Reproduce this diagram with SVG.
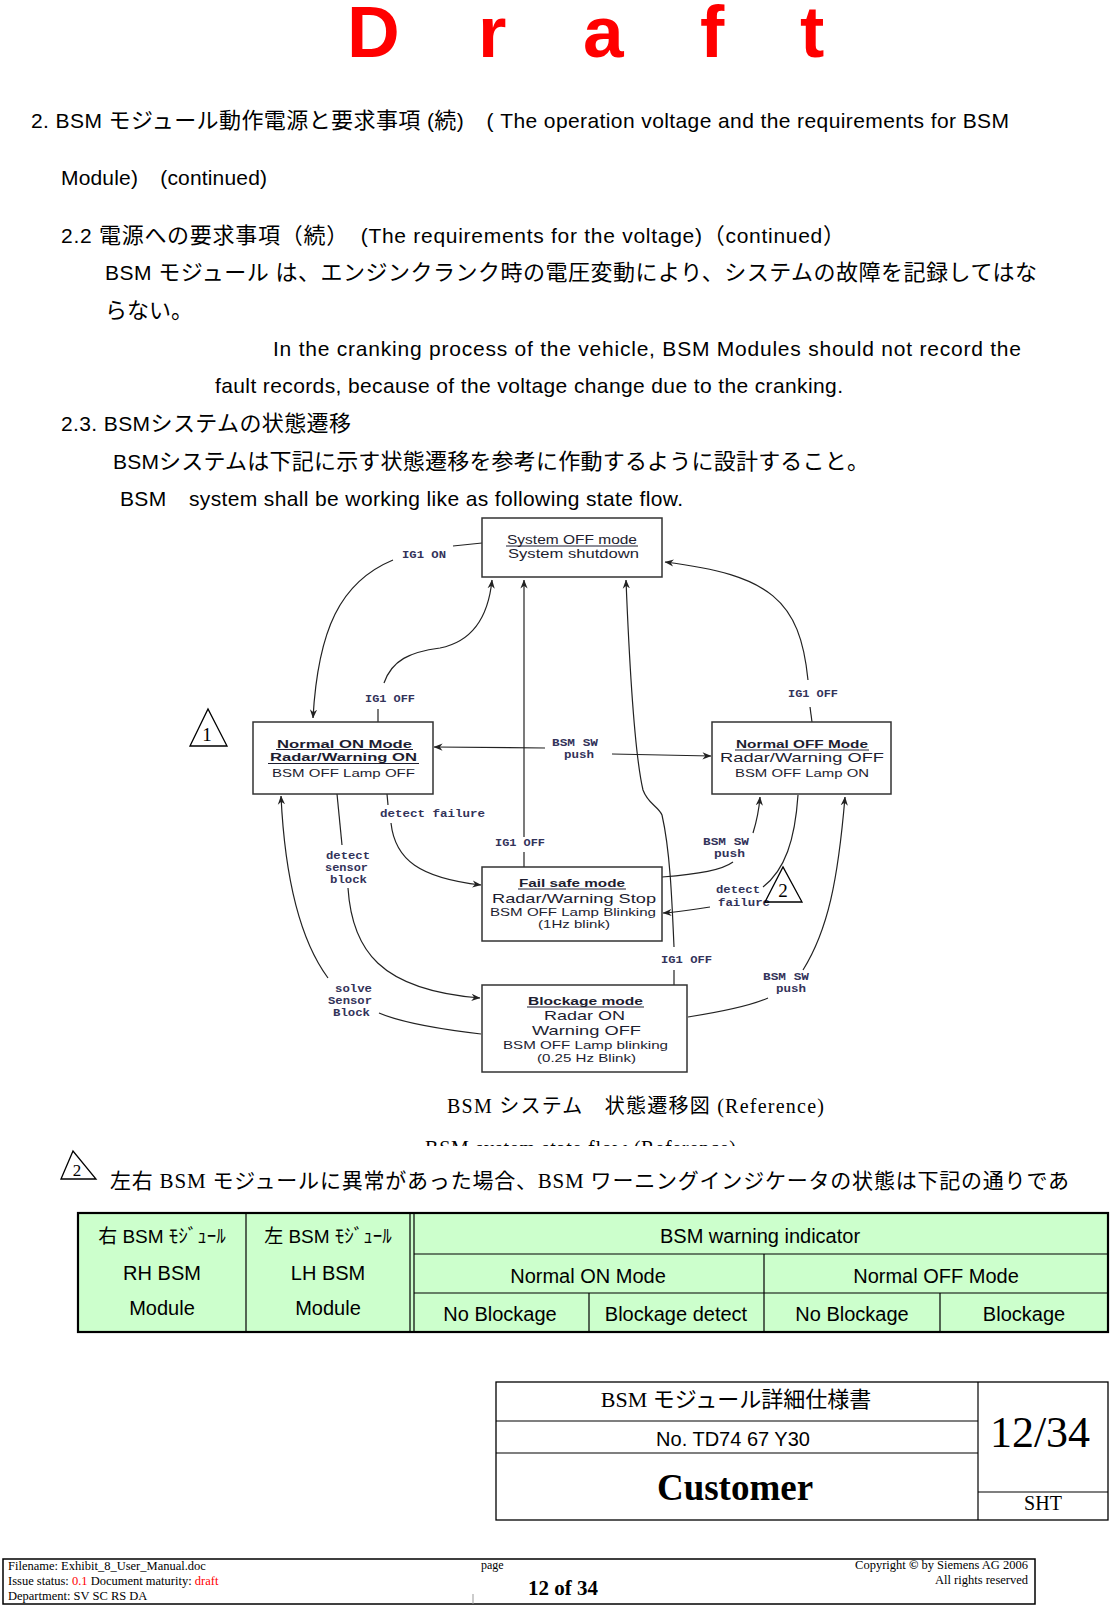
<svg xmlns="http://www.w3.org/2000/svg" width="1110" height="1606" viewBox="0 0 1110 1606">
<style>
.t{font-family:'Liberation Sans','Noto Sans CJK JP',sans-serif;font-size:21px;fill:#000}
.j{font-family:'Noto Sans CJK JP',sans-serif;font-size:22px}
.tt{font-family:'Liberation Sans','Noto Sans CJK JP',sans-serif;font-size:20px;fill:#000}
.s{font-family:'Liberation Serif','Noto Sans CJK JP',serif;fill:#000}
.nd{font-family:'Liberation Sans',sans-serif;fill:#1d1d30}
.b{font-weight:bold}
.lb{font-family:'Liberation Mono','DejaVu Sans Mono',monospace;font-size:11px;font-weight:bold;fill:#33335a}
.box{fill:#fff;stroke:#333;stroke-width:1.5}
.ul{stroke:#1d1d30;stroke-width:1}
.c{fill:none;stroke:#222;stroke-width:1.2}
.tri{fill:none;stroke:#000;stroke-width:1.3}
.tb{fill:none;stroke:#000;stroke-width:1.2}
</style>
<defs>
<marker id="arr" viewBox="0 0 10 10" refX="9.5" refY="5" markerWidth="9" markerHeight="9" markerUnits="userSpaceOnUse" orient="auto">
<path d="M0,1 L10,5 L0,9 L3,5 z" fill="#222"/>
</marker>
<clipPath id="clipcap"><rect x="0" y="1130" width="1110" height="16"/></clipPath>
</defs>
<rect width="1110" height="1606" fill="#fff"/>

<g id="draft-title">
<text x="347 478 583 700 800" y="57" font-family="'Liberation Sans',sans-serif" font-weight="bold" font-size="73" fill="#ff0000">Draft</text>
</g>

<g id="body-text">
<text class="t" x="31" y="128" textLength="978" lengthAdjust="spacing">2. BSM <tspan class="j">モジュール動作電源と要求事項</tspan> (<tspan class="j">続</tspan>)<tspan class="j">　</tspan>( The operation voltage and the requirements for BSM</text>
<text class="t" x="61" y="185" textLength="206" lengthAdjust="spacing">Module)<tspan class="j">　</tspan>(continued)</text>
<text class="t" x="61" y="243" textLength="784" lengthAdjust="spacing">2.2 <tspan class="j">電源への要求事項（続）　</tspan>(The requirements for the voltage)<tspan class="j">（</tspan>continued<tspan class="j">）</tspan></text>
<text class="t" x="105" y="280" textLength="932" lengthAdjust="spacing">BSM <tspan class="j">モジュール</tspan> <tspan class="j">は、エンジンクランク時の電圧変動により、システムの故障を記録してはな</tspan></text>
<text class="t" x="105" y="318"><tspan class="j">らない。</tspan></text>
<text class="t" x="273" y="356" textLength="748" lengthAdjust="spacing">In the cranking process of the vehicle, BSM Modules should not record the</text>
<text class="t" x="215" y="393" textLength="628" lengthAdjust="spacing">fault records, because of the voltage change due to the cranking.</text>
<text class="t" x="61" y="431" textLength="290" lengthAdjust="spacing">2.3. BSM<tspan class="j">システムの状態遷移</tspan></text>
<text class="t" x="113" y="469" textLength="756" lengthAdjust="spacing">BSM<tspan class="j">システムは下記に示す状態遷移を参考に作動するように設計すること。</tspan></text>
<text class="t" x="120" y="506" textLength="563" lengthAdjust="spacing">BSM<tspan class="j">　</tspan>system shall be working like as following state flow.</text>
</g>

<g id="connectors">
<path class="c" d="M482,543 L453,546"/>
<path class="c" d="M393,560 C340,582 318,630 313,718" marker-end="url(#arr)"/>
<path class="c" d="M378,722 L378,709"/>
<path class="c" d="M384,683 C392,660 410,652 440,648 C470,642 488,620 492,580" marker-end="url(#arr)"/>
<path class="c" d="M524,867 L524,852"/>
<path class="c" d="M524,837 L524,580" marker-end="url(#arr)"/>
<path class="c" d="M674,985 L674,970"/>
<path class="c" d="M674,947 C672,900 670,850 662,815 C658,806 648,804 643,790 C636,760 630,680 626,580" marker-end="url(#arr)"/>
<path class="c" d="M812,722 L810,707"/>
<path class="c" d="M808,680 C800,600 770,575 665,562" marker-end="url(#arr)"/>
<path class="c" d="M545,748 L434,747" marker-end="url(#arr)"/>
<path class="c" d="M612,754 L711,756" marker-end="url(#arr)"/>
<path class="c" d="M387,794 L388,805"/>
<path class="c" d="M391,823 C395,860 420,878 481,885" marker-end="url(#arr)"/>
<path class="c" d="M337,794 L342,845"/>
<path class="c" d="M348,888 C352,950 380,990 480,998" marker-end="url(#arr)"/>
<path class="c" d="M481,1034 C430,1028 400,1022 379,1013"/>
<path class="c" d="M328,978 C300,940 285,880 281,796" marker-end="url(#arr)"/>
<path class="c" d="M662,877 C700,874 722,870 733,862"/>
<path class="c" d="M753,833 C757,820 759,810 760,797" marker-end="url(#arr)"/>
<path class="c" d="M798,795 C795,840 785,870 763,887"/>
<path class="c" d="M710,907 C690,910 680,912 663,913" marker-end="url(#arr)"/>
<path class="c" d="M688,1017 C720,1012 750,1006 768,998"/>
<path class="c" d="M803,970 C828,930 838,880 845,797" marker-end="url(#arr)"/>
</g>

<g id="labels">
<text class="lb" x="402" y="558" textLength="44" lengthAdjust="spacingAndGlyphs">IG1 ON</text>
<text class="lb" x="365" y="702" textLength="50" lengthAdjust="spacingAndGlyphs">IG1 OFF</text>
<text class="lb" x="788" y="697" textLength="50" lengthAdjust="spacingAndGlyphs">IG1 OFF</text>
<text class="lb" x="552" y="746" textLength="46" lengthAdjust="spacingAndGlyphs">BSM SW</text>
<text class="lb" x="564" y="758" textLength="30" lengthAdjust="spacingAndGlyphs">push</text>
<text class="lb" x="380" y="817" textLength="105" lengthAdjust="spacingAndGlyphs">detect failure</text>
<text class="lb" x="495" y="846" textLength="50" lengthAdjust="spacingAndGlyphs">IG1 OFF</text>
<text class="lb" x="326" y="859" textLength="44" lengthAdjust="spacingAndGlyphs">detect</text>
<text class="lb" x="325" y="871" textLength="43" lengthAdjust="spacingAndGlyphs">sensor</text>
<text class="lb" x="330" y="883" textLength="37" lengthAdjust="spacingAndGlyphs">block</text>
<text class="lb" x="703" y="845" textLength="46" lengthAdjust="spacingAndGlyphs">BSM SW</text>
<text class="lb" x="714" y="857" textLength="31" lengthAdjust="spacingAndGlyphs">push</text>
<text class="lb" x="716" y="893" textLength="44" lengthAdjust="spacingAndGlyphs">detect</text>
<text class="lb" x="718" y="906" textLength="52" lengthAdjust="spacingAndGlyphs">failure</text>
<text class="lb" x="661" y="963" textLength="51" lengthAdjust="spacingAndGlyphs">IG1 OFF</text>
<text class="lb" x="335" y="992" textLength="37" lengthAdjust="spacingAndGlyphs">solve</text>
<text class="lb" x="328" y="1004" textLength="44" lengthAdjust="spacingAndGlyphs">Sensor</text>
<text class="lb" x="333" y="1016" textLength="37" lengthAdjust="spacingAndGlyphs">Block</text>
<text class="lb" x="763" y="980" textLength="46" lengthAdjust="spacingAndGlyphs">BSM SW</text>
<text class="lb" x="776" y="992" textLength="30" lengthAdjust="spacingAndGlyphs">push</text>
</g>

<g id="node-system-off">
<rect class="box" x="482" y="518" width="180" height="59"/>
<text class="nd" x="507" y="544" font-size="12.5" textLength="130" lengthAdjust="spacingAndGlyphs">System OFF mode</text>
<line class="ul" x1="506" y1="546" x2="638" y2="546"/>
<text class="nd" x="508" y="558" font-size="12.5" textLength="131" lengthAdjust="spacingAndGlyphs">System shutdown</text>
</g>

<g id="node-normal-on">
<rect class="box" x="253" y="722" width="180" height="72"/>
<text class="nd b" x="277" y="747.5" font-size="11.5" textLength="135" lengthAdjust="spacingAndGlyphs">Normal ON Mode</text>
<line class="ul" x1="276" y1="749.5" x2="413" y2="749.5"/>
<text class="nd b" x="270" y="761" font-size="11.5" textLength="147" lengthAdjust="spacingAndGlyphs">Radar/Warning ON</text>
<line class="ul" x1="268" y1="763.5" x2="419" y2="763.5"/>
<text class="nd" x="272" y="777" font-size="11.5" textLength="143" lengthAdjust="spacingAndGlyphs">BSM OFF Lamp OFF</text>
</g>

<g id="node-normal-off">
<rect class="box" x="712" y="722" width="179" height="72"/>
<text class="nd b" x="736" y="748" font-size="11" textLength="132" lengthAdjust="spacingAndGlyphs">Normal OFF Mode</text>
<line class="ul" x1="735" y1="750" x2="869" y2="750"/>
<text class="nd" x="720" y="762" font-size="13.5" textLength="164" lengthAdjust="spacingAndGlyphs">Radar/Warning OFF</text>
<text class="nd" x="735" y="777" font-size="11" textLength="134" lengthAdjust="spacingAndGlyphs">BSM OFF Lamp ON</text>
</g>

<g id="node-fail-safe">
<rect class="box" x="482" y="867" width="180" height="74"/>
<text class="nd b" x="519" y="887" font-size="11" textLength="106" lengthAdjust="spacingAndGlyphs">Fail safe mode</text>
<line class="ul" x1="518" y1="889" x2="626" y2="889"/>
<text class="nd" x="492" y="902.5" font-size="13.5" textLength="164" lengthAdjust="spacingAndGlyphs">Radar/Warning Stop</text>
<text class="nd" x="490" y="916" font-size="11" textLength="166" lengthAdjust="spacingAndGlyphs">BSM OFF Lamp Blinking</text>
<text class="nd" x="538" y="927.5" font-size="11" textLength="72" lengthAdjust="spacingAndGlyphs">(1Hz blink)</text>
</g>

<g id="node-blockage">
<rect class="box" x="482" y="985" width="205" height="87"/>
<text class="nd b" x="528" y="1005" font-size="11" textLength="115" lengthAdjust="spacingAndGlyphs">Blockage mode</text>
<line class="ul" x1="527" y1="1007" x2="644" y2="1007"/>
<text class="nd" x="544" y="1020" font-size="13.5" textLength="81" lengthAdjust="spacingAndGlyphs">Radar ON</text>
<text class="nd" x="532" y="1035" font-size="13.5" textLength="109" lengthAdjust="spacingAndGlyphs">Warning OFF</text>
<text class="nd" x="503" y="1049" font-size="11" textLength="165" lengthAdjust="spacingAndGlyphs">BSM OFF Lamp blinking</text>
<text class="nd" x="537" y="1062" font-size="11" textLength="99" lengthAdjust="spacingAndGlyphs">(0.25 Hz Blink)</text>
</g>

<g id="mark-1">
<polygon class="tri" points="190,746 208,709 227,746"/>
<text class="s" x="207" y="741" font-size="19" text-anchor="middle">1</text>
</g>
<g id="mark-2">
<polygon class="tri" points="765,902 783,867 802,902"/>
<text class="s" x="783" y="897" font-size="19" text-anchor="middle">2</text>
</g>

<g id="caption">
<text class="s" x="447" y="1113" font-size="20" textLength="377" lengthAdjust="spacing">BSM システム　状態遷移図 (Reference)</text>
<text class="s" x="425" y="1155" font-size="20" textLength="311" lengthAdjust="spacing" clip-path="url(#clipcap)">BSM system state flow (Reference)</text>
</g>

<g id="note-2">
<polygon class="tri" points="61,1179 73,1151 96,1179"/>
<text class="s" x="77" y="1176" font-size="17" text-anchor="middle">2</text>
<text class="s" x="110" y="1188" font-size="21" textLength="959" lengthAdjust="spacing">左右 BSM モジュールに異常があった場合、BSM ワーニングインジケータの状態は下記の通りであ</text>
</g>

<g id="table">
<rect x="78" y="1213" width="1030" height="119" fill="#ccffcc" stroke="none"/>
<line class="tb" x1="246" y1="1213" x2="246" y2="1332"/>
<line class="tb" x1="410" y1="1213" x2="410" y2="1332"/>
<line class="tb" x1="414" y1="1213" x2="414" y2="1332"/>
<line class="tb" x1="414" y1="1254" x2="1108" y2="1254"/>
<line class="tb" x1="414" y1="1293" x2="1108" y2="1293"/>
<line class="tb" x1="764" y1="1254" x2="764" y2="1332"/>
<line class="tb" x1="589" y1="1293" x2="589" y2="1332"/>
<line class="tb" x1="940" y1="1293" x2="940" y2="1332"/>
<rect x="78" y="1213" width="1030" height="119" fill="none" stroke="#000" stroke-width="2.2"/>
<g class="tt" text-anchor="middle">
<text x="162" y="1243" font-size="19">右 BSM ﾓｼﾞｭｰﾙ</text>
<text x="162" y="1280">RH BSM</text>
<text x="162" y="1315">Module</text>
<text x="328" y="1243" font-size="19">左 BSM ﾓｼﾞｭｰﾙ</text>
<text x="328" y="1280">LH BSM</text>
<text x="328" y="1315">Module</text>
<text x="760" y="1243">BSM warning indicator</text>
<text x="588" y="1283">Normal ON Mode</text>
<text x="936" y="1283">Normal OFF Mode</text>
<text x="500" y="1321">No Blockage</text>
<text x="676" y="1321">Blockage detect</text>
<text x="852" y="1321">No Blockage</text>
<text x="1024" y="1321">Blockage</text>
</g>
</g>

<g id="title-block">
<rect x="496" y="1382" width="612" height="138" fill="none" stroke="#000" stroke-width="1.3"/>
<line class="tb" x1="978" y1="1382" x2="978" y2="1520"/>
<line class="tb" x1="496" y1="1421" x2="978" y2="1421"/>
<line class="tb" x1="496" y1="1453" x2="978" y2="1453"/>
<line class="tb" x1="978" y1="1492" x2="1108" y2="1492"/>
<text class="s" x="736" y="1407" font-size="22" text-anchor="middle">BSM モジュール詳細仕様書</text>
<text class="tt" x="733" y="1446" text-anchor="middle">No. TD74 67 Y30</text>
<text class="s b" x="735" y="1500" font-size="37" text-anchor="middle">Customer</text>
<text class="s" x="1040" y="1447" font-size="44" text-anchor="middle">12/34</text>
<text class="s" x="1043" y="1510" font-size="20" text-anchor="middle">SHT</text>
</g>

<g id="footer">
<rect x="3" y="1559" width="1032" height="45" fill="none" stroke="#000" stroke-width="1.5"/>
<line x1="473" y1="1594" x2="473" y2="1604" stroke="#999" stroke-width="1"/>
<text class="s" x="8" y="1570" font-size="12.5">Filename: Exhibit_8_User_Manual.doc</text>
<text class="s" x="8" y="1585" font-size="12.5">Issue status: <tspan fill="#ff0000">0.1</tspan> Document maturity: <tspan fill="#ff0000">draft</tspan></text>
<text class="s" x="8" y="1600" font-size="12.5">Department: SV SC RS DA</text>
<text class="s" x="481" y="1569" font-size="12">page</text>
<text class="s b" x="563" y="1595" font-size="21" text-anchor="middle">12 of 34</text>
<text class="s" x="1028" y="1569" font-size="12.5" text-anchor="end">Copyright <tspan font-weight="bold">©</tspan> by Siemens AG 2006</text>
<text class="s" x="1028" y="1584" font-size="12.5" text-anchor="end">All rights reserved</text>
</g>
</svg>
